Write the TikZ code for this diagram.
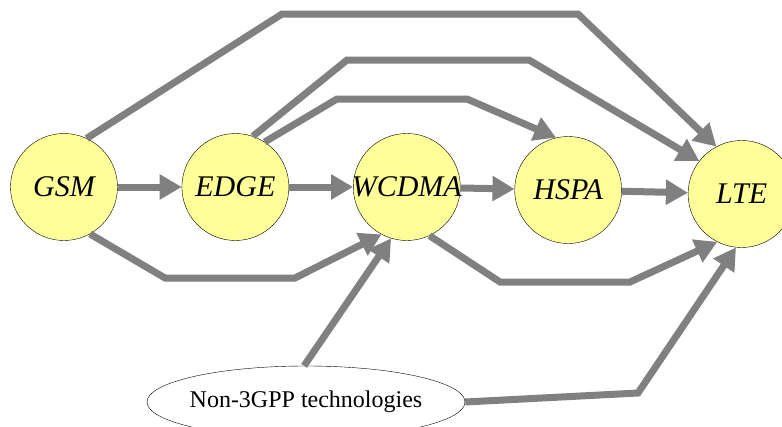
\documentclass[tikz,border=0pt]{standalone}
\usepackage{fontspec}
\setmainfont{Liberation Serif}
\usepackage{xcolor}
\usetikzlibrary{arrows.meta, positioning, shapes.geometric}

\definecolor{stagefill}{RGB}{255,255,153}
\definecolor{flowgray}{RGB}{128,128,128}

\begin{document}
\begin{tikzpicture}[
    x=1pt, y=-1pt,
    node distance=64pt,
    stage/.style={circle, draw, fill=stagefill, minimum size=107pt, inner xsep=-8pt, inner ysep=0pt, font=\fontsize{30}{30}\selectfont\itshape},
    source/.style={ellipse, draw, minimum width=318pt, minimum height=72pt, inner xsep=-4pt, font=\fontsize{24}{24}\selectfont},
    flow/.style={-{Triangle[length=22pt, width=24pt]}, line width=7pt, draw=flowgray}
]
    \useasboundingbox (0,0) rectangle (782,426);
    \clip (0,0) rectangle (782,426);

    % the generations
    \node [stage] (gsm) at (64,187) {GSM};
    \node [stage, right=of gsm] (edge) {EDGE};
    \node [stage, right=of edge] (wcdma) {WCDMA};
    \node [stage, right=54pt of wcdma, yshift=-3pt] (hspa) {HSPA};
    \node [stage, right=66pt of hspa, yshift=-4pt] (lte) {LTE};
    \node [source] (non3gpp) at (306,402) {Non-3GPP technologies};

    % straight steps
    \draw [flow] (gsm) -- (edge);
    \draw [flow] (edge) -- (wcdma);
    \draw [flow] (wcdma) -- (hspa);
    \draw [flow] (hspa) -- (lte);

    % routes over the top
    \draw [flow] (gsm.65) -- (282,14) -- (578,14) -- (lte.118);
    \draw [flow] (edge.71) -- (347,60) -- (529,60) -- (lte.142);
    \draw [flow] (edge.57) -- (337,99) -- (467,99) -- (hspa.103);

    % routes underneath
    \draw [flow] (gsm.299) -- (165,278) -- (295,278) -- (wcdma.242);
    \draw [flow] (wcdma.295) -- (500,282) -- (630,282) -- (lte.243);
    \draw [flow] (non3gpp.93) -- (wcdma.253);
    \draw [flow] (non3gpp.east) -- (638,393) -- (lte.264);
\end{tikzpicture}
\end{document}
